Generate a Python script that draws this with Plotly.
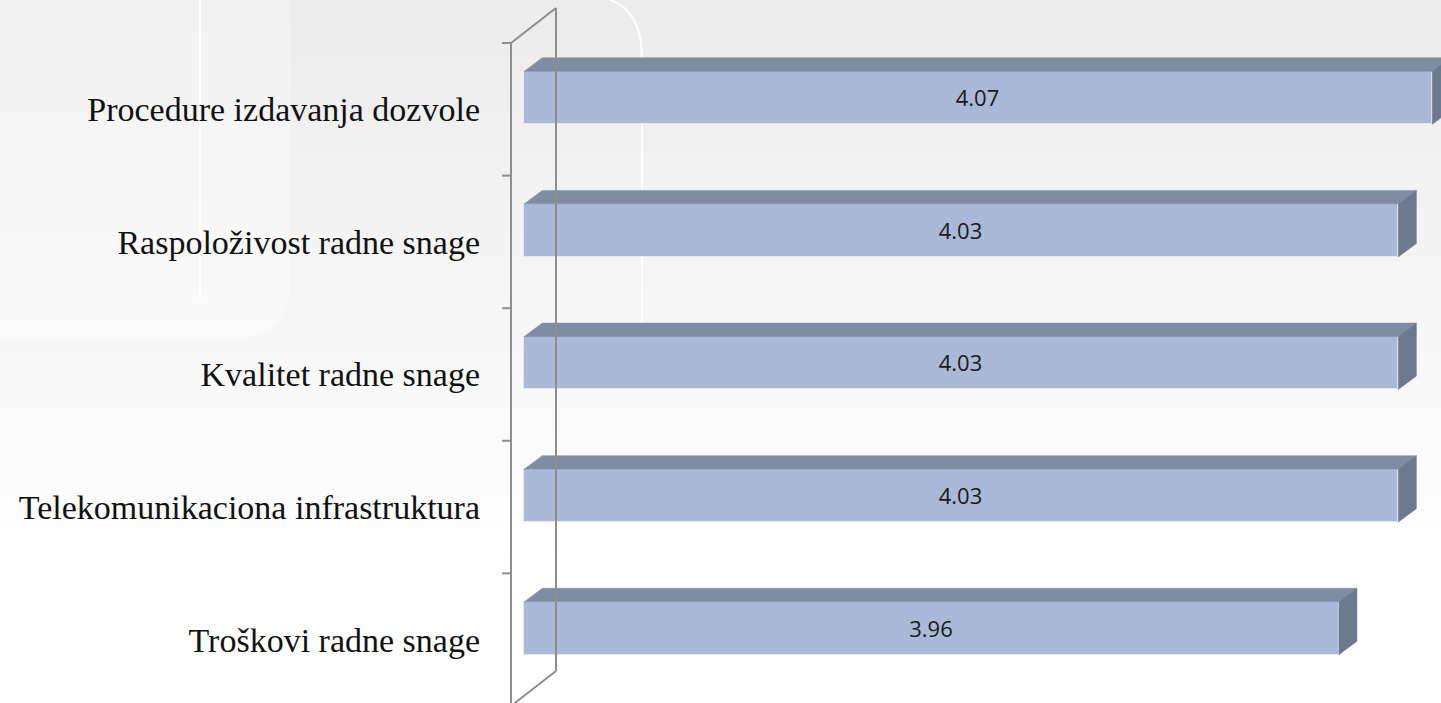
import plotly.graph_objects as go

# ---- data ----
categories = [
    "Procedure izdavanja dozvole",
    "Raspoloživost radne snage",
    "Kvalitet radne snage",
    "Telekomunikaciona infrastruktura",
    "Troškovi radne snage",
]
values = [4.07, 4.03, 4.03, 4.03, 3.96]
value_labels = ["4.07", "4.03", "4.03", "4.03", "3.96"]
axis_base = 3.0

# ---- geometry / style ----
W, H = 1441, 703
plot_left = 484
px_per_unit = 848.6          # x pixels per value unit
x_zero_px = 524.3            # pixel of axis_base
band_px = 132.6              # category band height in px
first_band_top_px = 43       # pixel of category boundary above first category

x_min = axis_base - (x_zero_px - plot_left) / px_per_unit
x_max = axis_base + (W - x_zero_px) / px_per_unit
y_top = -0.5 - first_band_top_px / band_px
y_bot = y_top + H / band_px

bar_width = 0.40
bar_offset = -0.287
dx = 18 / px_per_unit
dy = 13.4 / band_px

front_col = "#A9B9D7"
top_col = "#808CA3"
side_col = "#6C798E"
axis_col = "#8E8E8E"

ypos = list(range(len(categories)))

fig = go.Figure()

# top and side faces (3D effect)
for i, v in zip(ypos, values):
    yt = i + bar_offset
    yb = yt + bar_width
    fig.add_trace(go.Scatter(
        x=[axis_base, axis_base + dx, v + dx, v, axis_base],
        y=[yt, yt - dy, yt - dy, yt, yt],
        fill="toself", fillcolor=top_col, mode="lines",
        line=dict(width=0.5, color=top_col), hoverinfo="skip", showlegend=False))
    fig.add_trace(go.Scatter(
        x=[v, v + dx, v + dx, v, v],
        y=[yt, yt - dy, yb - dy, yb, yt],
        fill="toself", fillcolor=side_col, mode="lines",
        line=dict(width=0.5, color=side_col), hoverinfo="skip", showlegend=False))

# front faces
fig.add_trace(go.Bar(
    y=ypos,
    x=[v - axis_base for v in values],
    base=axis_base,
    orientation="h",
    width=bar_width,
    offset=bar_offset,
    marker=dict(color=front_col, line=dict(color="#E3E8F1", width=1)),
    text=value_labels,
    textposition="inside",
    insidetextanchor="middle",
    textangle=0,
    textfont=dict(family="Open Sans", size=22, color="#1A1A1A"),
    hoverinfo="skip",
    showlegend=False,
))

shapes = []
# background gradient (whole figure)
def px2paper_x(p):
    return (p - plot_left) / (W - plot_left)

def px2paper_y(p):
    return 1 - p / H

n = 24
for k in range(n):
    t = k / (n - 1)
    g = int(236 + (255 - 236) * min(1, t * 1.25))
    shapes.append(dict(type="rect", xref="paper", yref="paper",
                       x0=px2paper_x(-10), x1=px2paper_x(W + 10),
                       y0=px2paper_y(H * (k + 1) / n + 1), y1=px2paper_y(H * k / n - 1),
                       fillcolor=f"rgb({g},{g},{g})", line=dict(width=0), layer="below"))
# subtle lighter panel on the upper left
x0p, x1p = px2paper_x(-20), px2paper_x(290)
y0p, y1p = px2paper_y(340), px2paper_y(-20)
shapes.append(dict(type="path", xref="paper", yref="paper",
                   path=f"M {x0p} {y1p} L {x1p} {y1p} L {x1p} {px2paper_y(280)} "
                        f"Q {x1p} {y0p} {px2paper_x(230)} {y0p} L {x0p} {y0p} Z",
                   fillcolor="rgba(255,255,255,0.35)", line=dict(width=0), layer="below"))
shapes.append(dict(type="line", xref="paper", yref="paper",
                   x0=px2paper_x(200), x1=px2paper_x(200), y0=px2paper_y(0), y1=px2paper_y(300),
                   line=dict(color="rgba(255,255,255,0.9)", width=2), layer="below"))
shapes.append(dict(type="path", xref="paper", yref="paper",
                   path=f"M {px2paper_x(610)} {px2paper_y(0)} Q {px2paper_x(642)} {px2paper_y(10)} "
                        f"{px2paper_x(642)} {px2paper_y(60)} L {px2paper_x(642)} {px2paper_y(330)}",
                   line=dict(color="rgba(255,255,255,0.9)", width=2), layer="below"))

# 3D axis frame (data coordinates)
fx = axis_base - (x_zero_px - 511) / px_per_unit
bx = axis_base + (556 - x_zero_px) / px_per_unit
ddy = 35 / band_px
y_first = -0.5
y_last = len(categories) - 0.5
line = dict(color=axis_col, width=2)
shapes += [
    dict(type="line", xref="x", yref="y", x0=fx, x1=fx, y0=y_first, y1=y_last, line=line),
    dict(type="line", xref="x", yref="y", x0=bx, x1=bx, y0=y_first - ddy, y1=y_last - ddy, line=line),
    dict(type="line", xref="x", yref="y", x0=fx, x1=bx, y0=y_first, y1=y_first - ddy, line=line),
    dict(type="line", xref="x", yref="y", x0=fx, x1=bx, y0=y_last, y1=y_last - ddy, line=line),
]
tick_len = 9 / px_per_unit
for k in range(len(categories)):
    yk = k - 0.5
    shapes.append(dict(type="line", xref="x", yref="y", x0=fx - tick_len, x1=fx,
                       y0=yk, y1=yk, line=line))

fig.update_layout(
    width=W, height=H,
    margin=dict(l=plot_left, r=0, t=0, b=0),
    paper_bgcolor="#F4F4F4",
    plot_bgcolor="rgba(0,0,0,0)",
    shapes=shapes,
    bargap=0,
    xaxis=dict(range=[x_min, x_max], showticklabels=False, showgrid=False,
               zeroline=False, showline=False, ticks=""),
    yaxis=dict(range=[y_bot, y_top], tickmode="array", tickvals=ypos, ticktext=categories,
               showgrid=False, zeroline=False, showline=False, ticks="",
               tickfont=dict(family="Liberation Serif", size=34, color="#111111"),
               ticklabelstandoff=3),
)

fig.write_html(
    "out.html",
    config={"displayModeBar": False},
    post_script="document.body.style.margin='0';document.body.style.overflow='hidden';",
)
